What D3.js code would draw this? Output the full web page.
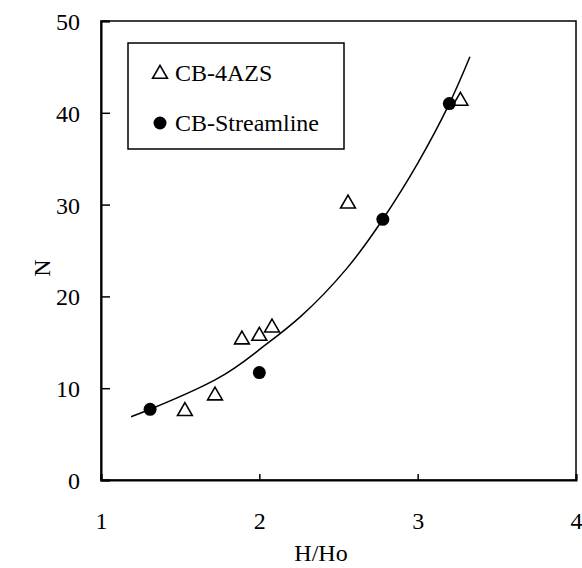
<!DOCTYPE html>
<html>
<head>
<meta charset="utf-8">
<script src="https://cdn.jsdelivr.net/npm/d3@7"></script>
<style>
body{margin:0;background:#fff;}
text{font-family:"Liberation Serif","Times New Roman",serif;fill:#000;}
</style>
</head>
<body>
<div id="container"></div>
<script>
// data
const azsX = [1.53, 1.72, 1.89, 2.00, 2.08, 2.56, 3.27];
const azsY = [7.6, 9.3, 15.4, 15.8, 16.7, 30.2, 41.4];
const slX = [1.31, 2.00, 2.78, 3.20];
const slY = [7.7, 11.7, 28.4, 41.0];
const fitX = [1.19, 1.31, 1.72, 2.00, 2.26, 2.55, 2.78, 3.00, 3.20, 3.33];
const fitY = [6.9, 7.7, 10.9, 14.2, 17.8, 23.0, 28.4, 34.5, 41.0, 46.1];
const xTicks = [1, 2, 3, 4];
const yTicks = [0, 10, 20, 30, 40, 50];
const legendNames = ["CB-4AZS", "CB-Streamline"];

const width = 582, height = 568;
const margin = {left: 101, right: 6, top: 21, bottom: 88};

let svg = d3.select("#container").append("svg")
  .attr("width", width)
  .attr("height", height);

let x = d3.scaleLinear().domain([1, 4]).range([margin.left, width - margin.right]);
let y = d3.scaleLinear().domain([0, 50]).range([height - margin.bottom, margin.top]);

// frame
svg.append("rect")
  .attr("x", x(1)).attr("y", y(50))
  .attr("width", x(4) - x(1)).attr("height", y(0) - y(50))
  .attr("fill", "none").attr("stroke", "#000").attr("stroke-width", 1.5);

// axes, ticks pointing inward
let xAxis = svg.append("g")
  .attr("transform", "translate(0," + y(0) + ")")
  .call(d3.axisBottom(x).tickValues(xTicks).tickSize(-6).tickPadding(32).tickFormat(d3.format("d")));
let yAxis = svg.append("g")
  .attr("transform", "translate(" + x(1) + ",0)")
  .call(d3.axisLeft(y).tickValues(yTicks).tickSize(-9).tickPadding(21).tickFormat(d3.format("d")));

[xAxis, yAxis].forEach(g => {
  g.select(".domain").attr("stroke", "#000").attr("stroke-width", 2);
  g.selectAll(".tick line").attr("stroke", "#000").attr("stroke-width", 1.5);
  g.selectAll(".tick text").attr("font-size", 24).attr("font-family", "Liberation Serif").attr("fill", "#000");
});
yAxis.selectAll(".tick text").attr("dy", "0.35em");

// axis titles
svg.append("text")
  .attr("x", 321).attr("y", 561)
  .attr("text-anchor", "middle").attr("font-size", 24)
  .text("H/Ho");
svg.append("text")
  .attr("transform", "translate(50,268) rotate(-90)")
  .attr("text-anchor", "middle").attr("font-size", 24)
  .text("N");

// fitted curve
let fit = fitX.map((d, i) => [d, fitY[i]]);
svg.append("path")
  .datum(fit)
  .attr("fill", "none").attr("stroke", "#000").attr("stroke-width", 1.5)
  .attr("d", d3.line().x(d => x(d[0])).y(d => y(d[1])).curve(d3.curveNatural));

// markers
let tri = d3.symbol().type(d3.symbolTriangle).size(95);
svg.append("g").selectAll("path")
  .data(azsX.map((d, i) => [d, azsY[i]]))
  .join("path")
  .attr("d", tri)
  .attr("transform", d => "translate(" + x(d[0]) + "," + (y(d[1]) + 1) + ")")
  .attr("fill", "#fff").attr("stroke", "#000").attr("stroke-width", 1.6);

svg.append("g").selectAll("circle")
  .data(slX.map((d, i) => [d, slY[i]]))
  .join("circle")
  .attr("cx", d => x(d[0])).attr("cy", d => y(d[1]))
  .attr("r", 6.5).attr("fill", "#000");

// legend
let lg = svg.append("g");
lg.append("rect")
  .attr("x", 128).attr("y", 43).attr("width", 216).attr("height", 106)
  .attr("fill", "#fff").attr("stroke", "#000").attr("stroke-width", 1.5);
lg.append("path")
  .attr("d", tri)
  .attr("transform", "translate(160,74)")
  .attr("fill", "#fff").attr("stroke", "#000").attr("stroke-width", 1.6);
lg.append("circle")
  .attr("cx", 160).attr("cy", 123).attr("r", 6.5).attr("fill", "#000");
lg.selectAll("text")
  .data(legendNames)
  .join("text")
  .attr("x", 175).attr("y", (d, i) => 81 + i * 50)
  .attr("font-size", 24)
  .text(d => d);
</script>
</body>
</html>
